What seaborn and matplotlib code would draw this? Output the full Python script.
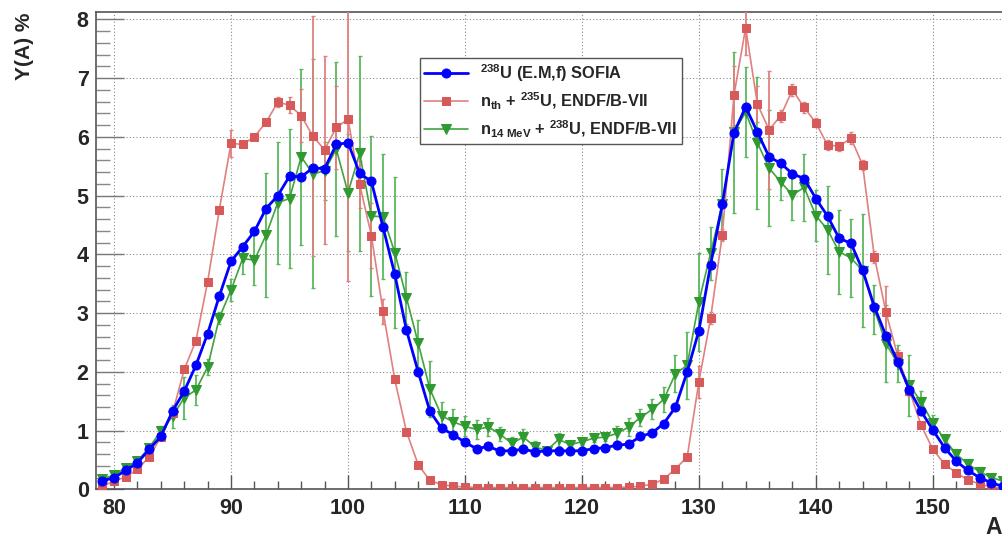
import numpy as np
import matplotlib
matplotlib.use("Agg")
import matplotlib.pyplot as plt
import seaborn as sns
from matplotlib.ticker import MultipleLocator

# ---- data ----
mass_number = list(range(79, 157))

sofia_yield = [0.14, 0.20, 0.32, 0.45, 0.68, 0.90, 1.33, 1.67, 2.11, 2.65,
               3.29, 3.88, 4.13, 4.39, 4.78, 5.00, 5.33, 5.32, 5.47, 5.46,
               5.87, 5.90, 5.38, 5.24, 4.46, 3.66, 2.71, 2.00, 1.33, 1.04,
               0.93, 0.80, 0.69, 0.73, 0.65, 0.66, 0.68, 0.64, 0.65, 0.66,
               0.65, 0.66, 0.69, 0.71, 0.75, 0.77, 0.90, 0.96, 1.12, 1.40,
               2.00, 2.70, 3.82, 4.85, 6.07, 6.51, 6.08, 5.66, 5.55, 5.37,
               5.29, 4.95, 4.65, 4.27, 4.19, 3.73, 3.11, 2.61, 2.17, 1.69,
               1.33, 1.01, 0.71, 0.48, 0.32, 0.20, 0.11, 0.05]

nth_u235_yield = [0.05, 0.14, 0.21, 0.34, 0.55, 0.89, 1.30, 2.04, 2.53, 3.53,
                  4.76, 5.89, 5.87, 6.00, 6.25, 6.59, 6.54, 6.36, 6.01, 5.78,
                  6.16, 6.30, 5.19, 4.32, 3.03, 1.87, 0.98, 0.42, 0.15, 0.08,
                  0.05, 0.04, 0.03, 0.03, 0.03, 0.03, 0.03, 0.03, 0.03, 0.03,
                  0.03, 0.03, 0.03, 0.03, 0.03, 0.04, 0.05, 0.09, 0.17, 0.35,
                  0.55, 1.83, 2.91, 4.33, 6.71, 7.86, 6.56, 6.12, 6.36, 6.80,
                  6.50, 6.24, 5.86, 5.84, 5.98, 5.52, 3.96, 3.01, 2.27, 1.68,
                  1.09, 0.68, 0.43, 0.28, 0.16, 0.09, 0.04, 0.02]

nth_u235_err = [0.01, 0.01, 0.01, 0.02, 0.02, 0.03, 0.05, 0.05, 0.05, 0.05,
                0.05, 0.23, 0.05, 0.05, 0.05, 0.08, 0.14, 0.45, 2.04, 1.60,
                0.70, 2.76, 0.40, 0.55, 0.21, 0.05, 0.03, 0.02, 0.01, 0.01,
                0.01, 0.01, 0.01, 0.01, 0.01, 0.01, 0.01, 0.01, 0.01, 0.01,
                0.01, 0.01, 0.01, 0.01, 0.01, 0.01, 0.01, 0.01, 0.02, 0.03,
                0.05, 0.27, 0.10, 0.10, 0.50, 0.47, 0.30, 1.00, 0.10, 0.10,
                0.10, 0.08, 0.08, 0.08, 0.10, 0.08, 0.10, 0.45, 0.10, 0.10,
                0.05, 0.04, 0.03, 0.02, 0.01, 0.01, 0.01, 0.01]

n14_u238_yield = [0.18, 0.24, 0.37, 0.48, 0.71, 0.99, 1.24, 1.56, 1.69, 2.08,
                  2.92, 3.39, 3.93, 3.90, 4.33, 4.88, 4.95, 5.66, 5.37, 5.42,
                  5.79, 5.05, 5.72, 4.65, 4.64, 4.03, 3.26, 2.49, 1.71, 1.25,
                  1.15, 1.07, 1.02, 1.06, 0.94, 0.78, 0.89, 0.72, 0.66, 0.85,
                  0.76, 0.81, 0.87, 0.89, 0.95, 1.06, 1.22, 1.36, 1.53, 1.97,
                  2.11, 3.19, 4.02, 4.85, 6.08, 6.42, 5.90, 5.47, 5.23, 5.01,
                  5.14, 4.66, 4.42, 4.04, 3.94, 3.72, 3.06, 2.48, 2.14, 1.77,
                  1.49, 1.13, 0.85, 0.60, 0.43, 0.30, 0.20, 0.14]

n14_u238_err = [0.03, 0.04, 0.04, 0.05, 0.05, 0.08, 0.20, 0.36, 0.26, 0.14,
                0.10, 0.19, 0.26, 0.43, 1.05, 1.04, 1.18, 1.50, 1.95, 0.50,
                1.48, 1.00, 1.66, 1.36, 1.06, 1.28, 0.44, 0.40, 0.48, 0.23,
                0.21, 0.17, 0.16, 0.16, 0.12, 0.11, 0.14, 0.11, 0.06, 0.11,
                0.05, 0.05, 0.07, 0.07, 0.12, 0.16, 0.14, 0.17, 0.21, 0.31,
                0.57, 0.84, 0.45, 0.60, 1.37, 0.77, 1.12, 0.99, 0.30, 0.43,
                0.57, 0.43, 0.75, 0.71, 0.66, 0.96, 0.42, 0.65, 0.31, 0.52,
                0.19, 0.14, 0.08, 0.05, 0.04, 0.03, 0.03, 0.03]

labels = [r"$^{238}$U (E.M,f) SOFIA",
          r"n$_{th}$ + $^{235}$U, ENDF/B-VII",
          r"n$_{14\ MeV}$ + $^{238}$U, ENDF/B-VII"]

x_ticks = [80, 90, 100, 110, 120, 130, 140, 150]
y_ticks = [0, 1, 2, 3, 4, 5, 6, 7, 8]

# ---- style ----
sns.set_style("ticks")
plt.rcParams["font.family"] = ["Liberation Sans", "DejaVu Sans"]
plt.rcParams["font.weight"] = "bold"
plt.rcParams["mathtext.fontset"] = "custom"
plt.rcParams["mathtext.rm"] = "Liberation Sans:bold"
plt.rcParams["mathtext.it"] = "Liberation Sans:bold"
plt.rcParams["mathtext.bf"] = "Liberation Sans:bold"
plt.rcParams["mathtext.default"] = "regular"

blue = "#0000ff"
red_mk = "#d65a5a"
red_ln = "#e08080"
green_mk = "#2f9a2f"
green_ln = "#3fa33f"
green_err = "#5cb85c"
frame = "#555555"

fig = plt.figure(figsize=(10.03, 5.40), dpi=100)
ax = fig.add_axes([0.0954, 0.0939, 0.9046, 0.8833])

# error bars
ax.errorbar(mass_number, n14_u238_yield, yerr=n14_u238_err, fmt="none",
            ecolor=green_err, elinewidth=1.3, capsize=1.5, capthick=1.0, zorder=2)
ax.errorbar(mass_number, nth_u235_yield, yerr=nth_u235_err, fmt="none",
            ecolor=red_ln, elinewidth=1.3, capsize=1.5, capthick=1.0, zorder=3)

sns.lineplot(x=mass_number, y=n14_u238_yield, ax=ax, color=green_ln, linewidth=1.2,
             marker="v", markersize=7, markerfacecolor=green_mk, markeredgecolor=green_mk,
             label=labels[2], zorder=4)
sns.lineplot(x=mass_number, y=nth_u235_yield, ax=ax, color=red_ln, linewidth=1.2,
             marker="s", markersize=6, markerfacecolor=red_mk, markeredgecolor=red_mk,
             label=labels[1], zorder=5)
sns.lineplot(x=mass_number, y=sofia_yield, ax=ax, color=blue, linewidth=2.0,
             marker="o", markersize=6.5, markerfacecolor=blue, markeredgecolor=blue,
             label=labels[0], zorder=6)

ax.set_xlim(78.43, 156.0)
ax.set_ylim(0, 8.12)
ax.set_xticks(x_ticks)
ax.set_yticks(y_ticks)
ax.xaxis.set_minor_locator(MultipleLocator(2))
ax.yaxis.set_minor_locator(MultipleLocator(0.2))
ax.tick_params(axis="x", which="major", direction="in", length=10, width=1.0,
               color=frame, labelsize=15.5, pad=6)
ax.tick_params(axis="x", which="minor", direction="in", length=5.5, width=1.0, color=frame)
ax.tick_params(axis="y", which="major", direction="in", length=20, width=1.0,
               color="#777777", labelsize=15.5, pad=5)
ax.tick_params(axis="y", which="minor", direction="in", length=10, width=1.0, color="#888888")
ax.tick_params(top=False, right=False)
for lab in ax.get_xticklabels() + ax.get_yticklabels():
    lab.set_fontweight("bold")

ax.grid(True, which="major", linestyle=(0, (1, 2)), color="#8a8a8a", linewidth=0.8)
ax.set_axisbelow(True)
for side in ["left", "bottom", "top"]:
    ax.spines[side].set_color(frame)
    ax.spines[side].set_linewidth(1.2)
ax.spines["right"].set_visible(False)
ax.set_xlabel("")
ax.set_ylabel("")

fig.text(0.024, 0.977, "Y(A) %", rotation=90, ha="center", va="top",
         fontsize=15, fontweight="bold")
fig.text(0.999, 0.002, "A", ha="right", va="bottom", fontsize=16.5, fontweight="bold")

handles, hlabels = ax.get_legend_handles_labels()
order = [hlabels.index(l) for l in labels]
leg = ax.legend([handles[i] for i in order], [hlabels[i] for i in order],
                loc="upper left", bbox_to_anchor=(0.357, 0.905),
                prop={"size": 11.8, "weight": "bold"}, frameon=True, fancybox=False,
                edgecolor=frame, framealpha=1.0, handlelength=2.7,
                handletextpad=0.7, labelspacing=0.42, borderpad=0.28,
                borderaxespad=0.0)
leg.get_frame().set_linewidth(1.0)

fig.savefig("out.png", dpi=100)
